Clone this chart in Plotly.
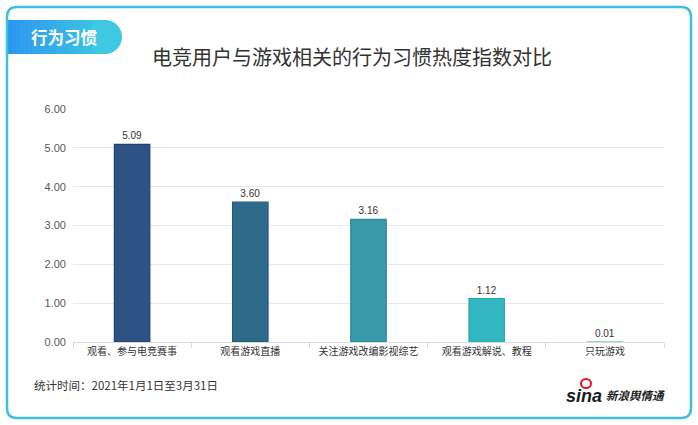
import plotly.graph_objects as go

# données
categories = ["观看、参与电竞赛事", "观看游戏直播", "关注游戏改编影视综艺", "观看游戏解说、教程", "只玩游戏"]
valeurs = [5.09, 3.60, 3.16, 1.12, 0.01]
couleurs = ["#2e5283", "#2e6a8a", "#3899a8", "#33b7c0", "#a9dccf"]
bordures = ["#1f406f", "#1e5a7a", "#2b8a9a", "#2aa9b1", "#9cd3c6"]
titre = "电竞用户与游戏相关的行为习惯热度指数对比"
onglet = "行为习惯"
note = "统计时间：2021年1月1日至3月31日"

W, H = 698, 425
ML, MR, MT, MB = 73, 34, 109, 83
PW, PH = W - ML - MR, H - MT - MB


def px(x):
    return (x - ML) / PW


def py(y):
    return (H - MB - y) / PH


def chemin(points):
    # points en pixels -> chemin SVG en coordonnées paper
    out = []
    for cmd, pts in points:
        coords = " ".join(f"{px(a):.5f},{py(b):.5f}" for a, b in pts)
        out.append(f"{cmd}{coords}")
    return " ".join(out) + " Z"


fig = go.Figure(go.Bar(
    x=categories, y=valeurs,
    marker=dict(color=couleurs, line=dict(color=bordures, width=1.2)),
    width=0.3,
    text=valeurs, texttemplate="%{y:.2f}", textposition="outside",
    textfont=dict(size=10, color="#333333"),
    cliponaxis=False,
))

formes = []

# cadre arrondi
x0, y0, x1, y1, r = 7, 7, 691, 418, 10
formes.append(dict(
    type="path", xref="paper", yref="paper",
    path=chemin([
        ("M", [(x0 + r, y0)]), ("L", [(x1 - r, y0)]), ("Q", [(x1, y0), (x1, y0 + r)]),
        ("L", [(x1, y1 - r)]), ("Q", [(x1, y1), (x1 - r, y1)]),
        ("L", [(x0 + r, y1)]), ("Q", [(x0, y1), (x0, y1 - r)]),
        ("L", [(x0, y0 + r)]), ("Q", [(x0, y0), (x0 + r, y0)]),
    ]),
    line=dict(color="#3ec0e1", width=2.5), fillcolor="rgba(0,0,0,0)", layer="above",
))

# onglet en dégradé
c_a, c_b = (43, 150, 240), (62, 200, 226)
ox0, ox1, oy0, oy1 = 8, 105, 20, 54
n = 24
for k in range(n):
    t = k / (n - 1)
    col = "rgb(%d,%d,%d)" % tuple(round(a + (b - a) * t) for a, b in zip(c_a, c_b))
    xa = ox0 + (ox1 - ox0) * k / n
    xb = ox0 + (ox1 - ox0) * (k + 1) / n + 0.6
    formes.append(dict(type="rect", xref="paper", yref="paper",
                       x0=px(xa), x1=px(xb), y0=py(oy1), y1=py(oy0),
                       line=dict(width=0), fillcolor=col, layer="below"))
rr = (oy1 - oy0) / 2
formes.append(dict(type="circle", xref="paper", yref="paper",
                   x0=px(ox1 - rr), x1=px(ox1 + rr), y0=py(oy1), y1=py(oy0),
                   line=dict(width=0), fillcolor="rgb(62,200,226)", layer="below"))

# petit oeil rouge du logo
formes.append(dict(type="circle", xref="paper", yref="paper",
                   x0=px(581), x1=px(591), y0=py(388), y1=py(379),
                   line=dict(color="#e1162c", width=2), fillcolor="white", layer="above"))

fig.update_layout(
    width=W, height=H,
    margin=dict(l=ML, r=MR, t=MT, b=MB),
    paper_bgcolor="white", plot_bgcolor="white",
    font=dict(family="Liberation Sans, Noto Sans CJK SC", color="#333333"),
    showlegend=False,
    bargap=0.7,
    shapes=formes,
    xaxis=dict(
        showline=True, linecolor="#d9d9d9", linewidth=1,
        ticks="outside", tickson="boundaries", ticklen=5, tickcolor="#d9d9d9",
        tickfont=dict(size=10, color="#333333", family="Noto Sans CJK SC"),
        tickangle=0,
        showgrid=False,
    ),
    yaxis=dict(
        range=[0, 6], dtick=1, tickformat=".2f",
        showgrid=True, gridcolor="#e9e9e9", gridwidth=1,
        zeroline=False, showline=False,
        tickfont=dict(size=11, color="#595959"),
        ticklabelstandoff=6,
    ),
    annotations=[
        dict(text=titre, xref="paper", yref="paper", x=px(352), y=py(57),
             xanchor="center", yanchor="middle", showarrow=False,
             font=dict(size=20, color="#333333", family="Noto Sans CJK SC")),
        dict(text="<b>" + onglet + "</b>", xref="paper", yref="paper", x=px(64), y=py(37),
             xanchor="center", yanchor="middle", showarrow=False,
             font=dict(size=16.5, color="white", family="Noto Sans CJK SC")),
        dict(text=note, xref="paper", yref="paper", x=px(32), y=py(385),
             xanchor="left", yanchor="middle", showarrow=False,
             font=dict(size=11.5, color="#333333", family="Noto Sans CJK SC")),
        dict(text="<b><i>sina</i></b>", xref="paper", yref="paper", x=px(604), y=py(396),
             xanchor="right", yanchor="middle", showarrow=False,
             font=dict(size=18, color="#1a1a1a", family="Liberation Sans")),
        dict(text="<b><i>新浪舆情通</i></b>", xref="paper", yref="paper", x=px(604), y=py(395),
             xanchor="left", yanchor="middle", showarrow=False,
             font=dict(size=11.5, color="#1a1a1a", family="Noto Sans CJK SC")),
    ],
)

fig.write_html("out.html", config={"displayModeBar": False},
               post_script="document.body.style.margin='0px';")
